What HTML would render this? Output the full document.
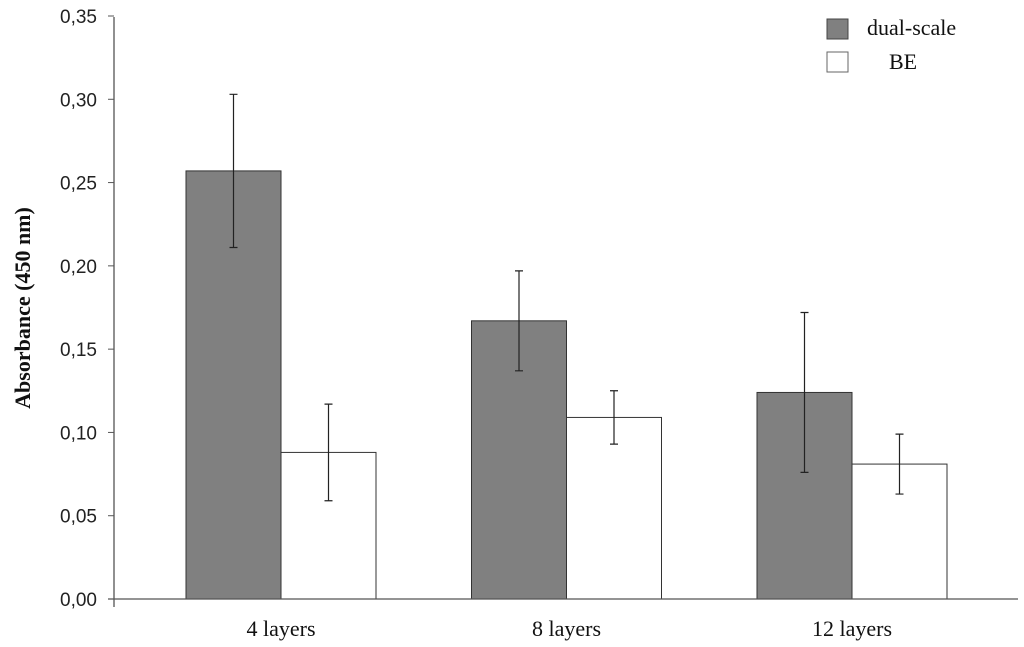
<!DOCTYPE html>
<html><head><meta charset="utf-8"><style>
body{margin:0;background:#fff;}
svg{display:block;}
.t{font-family:"Liberation Sans",sans-serif;font-size:19px;fill:#222;}
.s{font-family:"Liberation Serif",serif;font-size:22px;fill:#111;}
</style></head><body>
<svg id="chart" width="1024" height="647" viewBox="0 0 1024 647">
<g id="plot"></g>
<text class="s" font-weight="bold" font-size="23" transform="translate(30,308) rotate(-90)" text-anchor="middle">Absorbance (450 nm)</text>
<g>
<rect x="827" y="19" width="21" height="20" fill="#808080" stroke="#444" stroke-width="1"/>
<text class="s" x="867" y="35">dual-scale</text>
<rect x="827" y="52" width="21" height="20" fill="#fff" stroke="#666" stroke-width="1"/>
<text class="s" x="889" y="69">BE</text>
</g>
</svg>
<script>
const categories=["4 layers","8 layers","12 layers"];
const dualValues=[0.257,0.167,0.124];
const dualErr=[0.046,0.030,0.048];
const beValues=[0.088,0.109,0.081];
const beErr=[0.029,0.016,0.018];
const yTicks=[0,0.05,0.10,0.15,0.20,0.25,0.30,0.35];
const yTickLabels=["0,00","0,05","0,10","0,15","0,20","0,25","0,30","0,35"];
const NS="http://www.w3.org/2000/svg";
const g=document.getElementById('plot');
const y0=599, yScale=(600-17)/0.35;
function y(v){return y0-v*yScale;}
function x(i){return 281+i*285.5;}
const bw=95;
function el(tag,attrs){const e=document.createElementNS(NS,tag);for(const k in attrs)e.setAttribute(k,attrs[k]);g.appendChild(e);return e;}
for(let i=0;i<yTicks.length;i++){
 const tk=el('line',{x1:108,x2:114,y1:y(yTicks[i]),y2:y(yTicks[i]),stroke:'#555'});
 
 
 const t=el('text',{x:97,y:y(yTicks[i])+7,'text-anchor':'end',class:'t'});
 t.textContent=yTickLabels[i];
 
 
}
function bar(cx,v,e,fill,name){
 const r=el('rect',{x:cx,y:y(v),width:bw,height:y0-y(v),fill:fill,stroke:'#333','stroke-width':1});
 
 
 const mx=cx+bw/2;
 const l=el('path',{d:`M${mx},${y(v+e)}V${y(v-e)}M${mx-4},${y(v+e)}H${mx+4}M${mx-4},${y(v-e)}H${mx+4}`,stroke:'#222','stroke-width':1.2,fill:'none'});
 
 
}
for(let i=0;i<categories.length;i++){
 bar(x(i)-bw,dualValues[i],dualErr[i],'#808080','bar-dual-scale');
 bar(x(i),beValues[i],beErr[i],'#fff','bar-be');
 const t=el('text',{x:x(i),y:636,'text-anchor':'middle',class:'s'});
 t.textContent=categories[i];
 
 
}
const ya=el('line',{x1:114,x2:114,y1:17,y2:y0+8,stroke:'#555','stroke-width':1.3});


const xa=el('line',{x1:108,x2:1018,y1:y0,y2:y0,stroke:'#555','stroke-width':1.3});


</script>
</body></html>
